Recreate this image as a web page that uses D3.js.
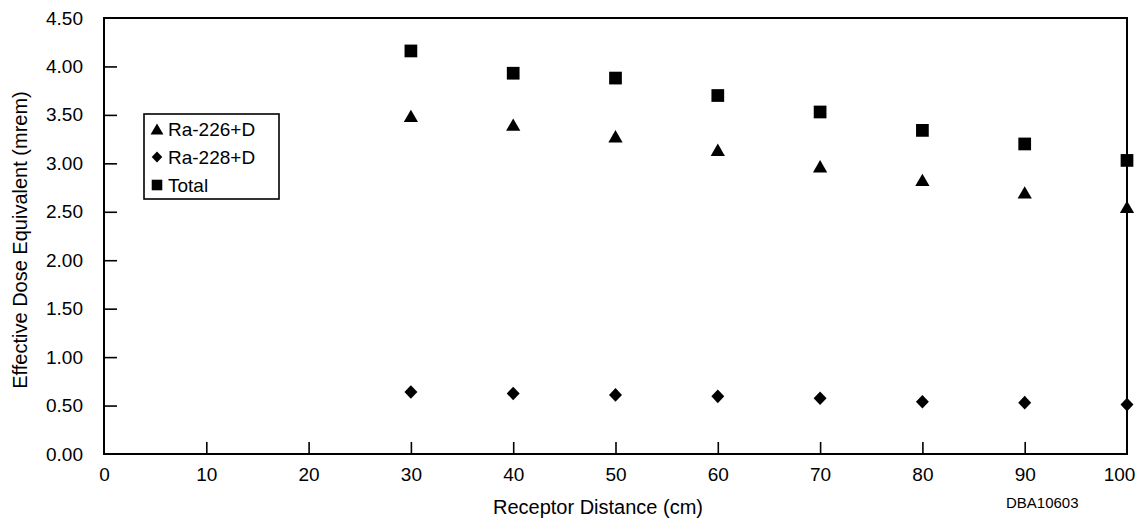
<!DOCTYPE html>
<html>
<head>
<meta charset="utf-8">
<script src="https://cdn.jsdelivr.net/npm/d3@7"></script>
<style>
html,body{margin:0;padding:0;background:#fff;}
svg{display:block;font-family:"Liberation Sans",Arial,Helvetica,sans-serif;}
</style>
</head>
<body>
<svg id="chart" width="1141" height="522"></svg>
<script>
const distances = [30, 40, 50, 60, 70, 80, 90, 100];
const ra226 = [3.49, 3.40, 3.28, 3.14, 2.97, 2.83, 2.70, 2.55];
const ra228 = [0.64, 0.625, 0.61, 0.595, 0.575, 0.54, 0.53, 0.51];
const total = [4.16, 3.93, 3.88, 3.70, 3.53, 3.34, 3.20, 3.03];
const xTicks = [0, 10, 20, 30, 40, 50, 60, 70, 80, 90, 100];
const yTicks = [0, 0.5, 1.0, 1.5, 2.0, 2.5, 3.0, 3.5, 4.0, 4.5];
const seriesNames = ["Ra-226+D", "Ra-228+D", "Total"];

const svg = d3.select("#chart");
const L = 104, R = 1127, T = 18, B = 454;
const x = d3.scaleLinear().domain([0, 100]).range([L, R]);
const y = d3.scaleLinear().domain([0, 4.5]).range([B, T]);

// custom triangle centered on its bounding box
const triBox = {
  draw(ctx, size) {
    const s = Math.sqrt(size * 4 / Math.sqrt(3));
    const h = s * Math.sqrt(3) / 2;
    ctx.moveTo(0, -h / 2);
    ctx.lineTo(s / 2, h / 2);
    ctx.lineTo(-s / 2, h / 2);
    ctx.closePath();
  }
};
const diamond = {
  draw(ctx, size) {
    const r = Math.sqrt(size) / Math.SQRT2;
    ctx.moveTo(0, -r * 1.05);
    ctx.lineTo(r, 0);
    ctx.lineTo(0, r * 1.05);
    ctx.lineTo(-r, 0);
    ctx.closePath();
  }
};
const symbols = [
  d3.symbol().type(triBox).size(88),
  d3.symbol().type(diamond).size(84),
  d3.symbol().type(d3.symbolSquare).size(162)
];
const legendSymbols = [
  d3.symbol().type(triBox).size(72),
  d3.symbol().type(diamond).size(56),
  d3.symbol().type(d3.symbolSquare).size(112)
];

// y axis (ticks pointing inward)
const yAxis = d3.axisLeft(y).tickValues(yTicks).tickFormat(d3.format(".2f")).tickSize(-13).tickPadding(21);
const gy = svg.append("g").attr("transform", `translate(${L},0)`).call(yAxis);
gy.select(".domain").remove();
gy.selectAll(".tick line").attr("stroke", "#000").attr("stroke-width", 1.6)
  .filter(d => d === 0 || d === 4.5).remove();
gy.selectAll(".tick text").attr("font-size", 19).attr("fill", "#000")
  .attr("font-family", "Liberation Sans, Arial, sans-serif");

// x axis (ticks pointing inward)
const xAxis = d3.axisBottom(x).tickValues(xTicks).tickFormat(d3.format("d")).tickSize(-12).tickPadding(27);
const gx = svg.append("g").attr("transform", `translate(0,${B})`).call(xAxis);
gx.select(".domain").remove();
gx.selectAll(".tick line").attr("stroke", "#000").attr("stroke-width", 1.6)
  .filter(d => d === 0 || d === 100).remove();
gx.selectAll(".tick text").attr("font-size", 19).attr("fill", "#000")
  .attr("font-family", "Liberation Sans, Arial, sans-serif").attr("dy", "0")
  .attr("dx", d => d === 100 ? -8 : 0);

// frame
svg.append("rect").attr("x", L).attr("y", T).attr("width", R - L).attr("height", B - T)
  .attr("fill", "none").attr("stroke", "#000").attr("stroke-width", 2);

// data
const allSeries = [ra226, ra228, total];
allSeries.forEach((vals, i) => {
  svg.append("g").selectAll("path").data(distances.map((d, j) => [d, vals[j]]))
    .join("path")
    .attr("d", symbols[i]())
    .attr("transform", d => `translate(${x(d[0])},${y(d[1])})`)
    .attr("fill", "#000");
});

// legend
const lg = svg.append("g");
lg.append("rect").attr("x", 144).attr("y", 114).attr("width", 135).attr("height", 85)
  .attr("fill", "#fff").attr("stroke", "#000").attr("stroke-width", 1.6);
seriesNames.forEach((name, i) => {
  const cy = 129 + i * 28;
  lg.append("path").attr("d", legendSymbols[i]()).attr("transform", `translate(157,${cy})`).attr("fill", "#000");
  lg.append("text").attr("x", 168).attr("y", cy + 7).attr("font-size", 19).attr("fill", "#000").text(name);
});

// titles
svg.append("text").attr("x", 598).attr("y", 514).attr("text-anchor", "middle")
  .attr("font-size", 20).attr("fill", "#000").text("Receptor Distance (cm)");
svg.append("text").attr("transform", "translate(27,240) rotate(-90)").attr("text-anchor", "middle")
  .attr("font-size", 20).attr("fill", "#000").text("Effective Dose Equivalent (mrem)");
svg.append("text").attr("x", 1006).attr("y", 508).attr("font-size", 15).attr("fill", "#000").text("DBA10603");
</script>
</body>
</html>
